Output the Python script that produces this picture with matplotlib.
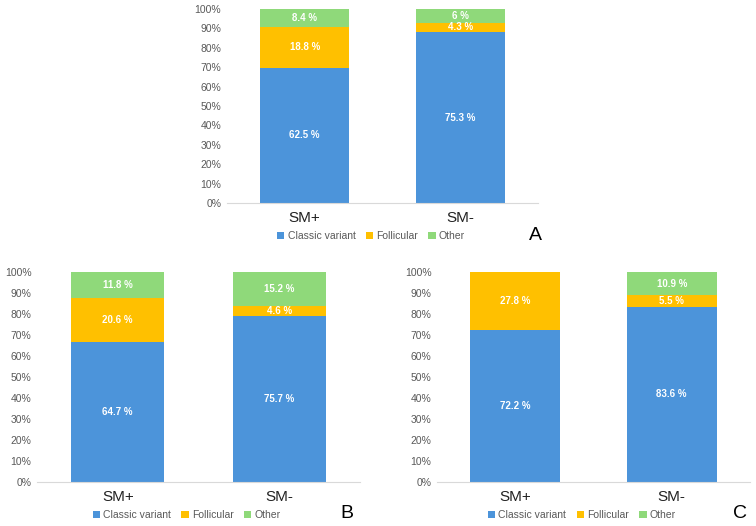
import numpy as np
import matplotlib
matplotlib.use('Agg')
import matplotlib.pyplot as plt
from matplotlib.ticker import PercentFormatter

groups = ['SM+', 'SM-']
series = ['Classic variant', 'Follicular', 'Other']
colors = ['#4C94DA', '#FFC000', '#8FD97A']

# reported percentages per panel (rows: SM+, SM-)
classic_a = [62.5, 75.3]
follic_a = [18.8, 4.3]
other_a = [8.4, 6.0]

classic_b = [64.7, 75.7]
follic_b = [20.6, 4.6]
other_b = [11.8, 15.2]

classic_c = [72.2, 83.6]
follic_c = [27.8, 5.5]
other_c = [0.0, 10.9]

# letter, data, axes rect, letter x (axes fraction)
panels = [
    ('A', [classic_a, follic_a, other_a], [0.300, 0.614, 0.412, 0.369], 0.99),
    ('B', [classic_b, follic_b, other_b], [0.049, 0.0837, 0.427, 0.399], 0.96),
    ('C', [classic_c, follic_c, other_c], [0.578, 0.0837, 0.414, 0.399], 0.968),
]

plt.rcParams['font.family'] = ['Liberation Sans', 'DejaVu Sans']

W, H = 756, 526
fig = plt.figure(figsize=(W / 100, H / 100), dpi=100)

for letter, vals, pos, lx in panels:
    ax = fig.add_axes(pos)
    hpx = pos[3] * H
    vals = np.array(vals, dtype=float)
    totals = vals.sum(axis=0)
    x = np.arange(len(groups))
    bottom = np.zeros(len(groups))
    handles = []
    for i, name in enumerate(series):
        share = vals[i] / totals
        h = ax.bar(x, share, 0.575, bottom=bottom, color=colors[i], label=name)
        handles.append(h)
        for j in range(len(groups)):
            if vals[i, j] > 0:
                ax.text(x[j], bottom[j] + share[j] / 2, f'{vals[i, j]:g} %',
                        ha='center', va='center', color='white',
                        fontsize=7, fontweight='bold')
        bottom += share

    ax.set_xlim(-0.5, 1.5)
    ax.set_ylim(0, 1)
    ax.set_yticks(np.arange(0, 1.01, 0.1))
    ax.yaxis.set_major_formatter(PercentFormatter(1.0, decimals=0))
    ax.set_xticks(x)
    ax.set_xticklabels(groups, fontsize=11, color='#222222')
    ax.tick_params(axis='y', length=0, labelsize=7.5, labelcolor='#595959', pad=4)
    ax.tick_params(axis='x', length=0, pad=6)
    for s in ['top', 'right', 'left']:
        ax.spines[s].set_visible(False)
    ax.spines['bottom'].set_color('#D9D9D9')

    ax.legend(handles=handles, loc='center', bbox_to_anchor=(0.463, -33 / hpx),
              ncol=3, frameon=False, fontsize=7.5, handlelength=0.7,
              handleheight=0.7, handletextpad=0.3, columnspacing=1.0,
              labelcolor='#595959', borderpad=0)
    ax.text(lx, -32 / hpx, letter, transform=ax.transAxes, fontsize=14,
            ha='center', va='center', color='black')

fig.savefig('out.png', dpi=100)
